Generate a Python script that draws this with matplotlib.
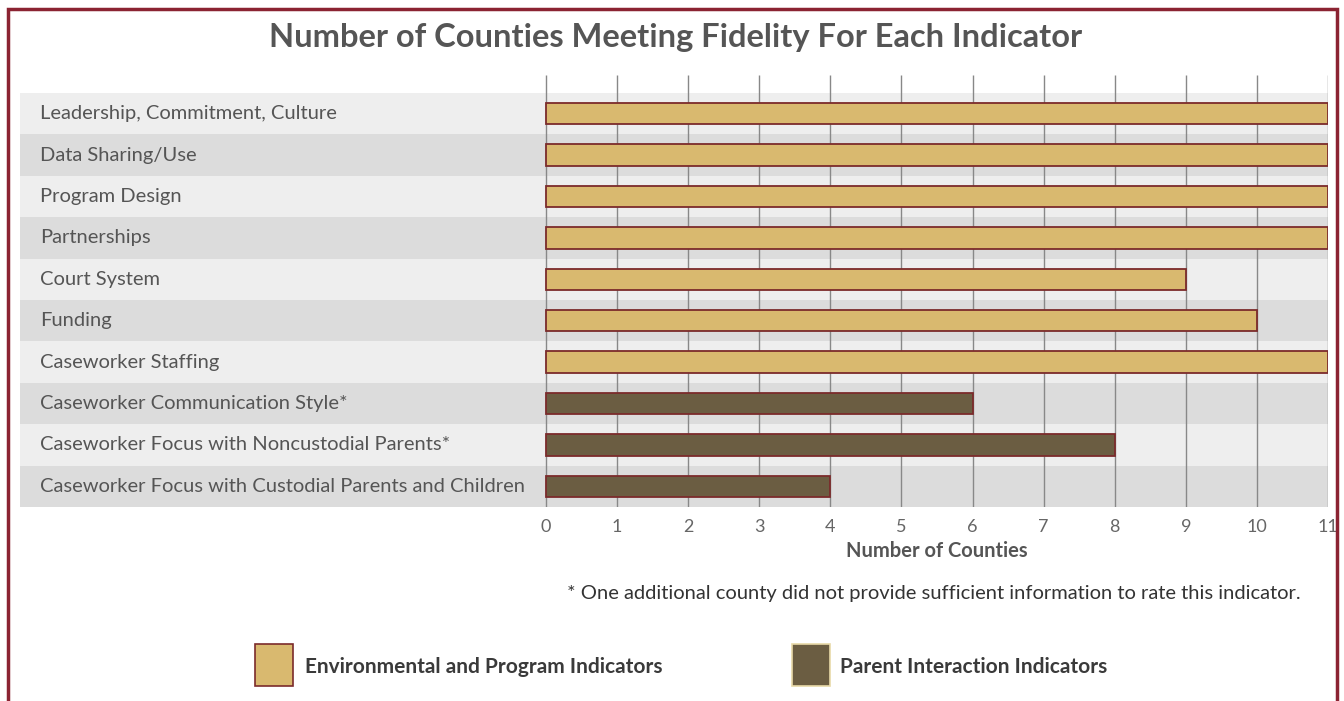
import matplotlib
matplotlib.use("Agg")
import matplotlib.pyplot as plt
from matplotlib.patches import Rectangle
import matplotlib.transforms as mtransforms

plt.rcParams['font.family'] = ['Lato', 'DejaVu Sans']

# data
indicators = ["Leadership, Commitment, Culture",
              "Data Sharing/Use",
              "Program Design",
              "Partnerships",
              "Court System",
              "Funding",
              "Caseworker Staffing",
              "Caseworker Communication Style*",
              "Caseworker Focus with Noncustodial Parents*",
              "Caseworker Focus with Custodial Parents and Children"]
counties = [11, 11, 11, 11, 9, 10, 11, 6, 8, 4]
group = ["env"] * 7 + ["parent"] * 3
xticks = list(range(0, 12))

group_names = {"env": "Environmental and Program Indicators",
               "parent": "Parent Interaction Indicators"}
colors = {"env": "#d9b96f", "parent": "#6b5d42"}
edge = "#7b2b2b"
band_light = "#eeeeee"
band_dark = "#dcdcdc"
txt = "#555555"

W, H = 1344, 701
fig = plt.figure(figsize=(W / 100, H / 100), dpi=100)

# axes spans label area + plot, x=0 at px 546, x=11 at px 1328
left_px, right_px, top_px, bot_px = 20, 1328, 75, 507
x0_px = 546
unit = (right_px - x0_px) / 11.0
xmin = -(x0_px - left_px) / unit
ax = fig.add_axes([left_px / W, 1 - bot_px / H, (right_px - left_px) / W, (bot_px - top_px) / H])
n = len(indicators)
row_px = (bot_px - 93) / n
top_extra = (93 - top_px) / row_px
ax.set_xlim(xmin, 11)
ax.set_ylim(n - 0.5, -0.5 - top_extra)

for i in range(n):
    ax.axhspan(i - 0.5, i + 0.5, color=band_light if i % 2 == 0 else band_dark, lw=0, zorder=0)
    ax.text(xmin + 20 / unit, i, indicators[i], va="center", ha="left",
            fontsize=14.5, color=txt, zorder=3)

ax.vlines(xticks, n - 0.5, -0.5 - top_extra, color="#888888", lw=1, zorder=1)

ax.barh(range(n), counties, height=0.52, color=[colors[g] for g in group],
        edgecolor=edge, linewidth=1.3, zorder=2)

for s in ax.spines.values():
    s.set_visible(False)
ax.set_yticks([])
ax.set_xticks(xticks)
ax.set_xticklabels([str(t) for t in xticks], fontsize=13, color="#666666")
ax.tick_params(axis="x", length=0, pad=9)

trans = mtransforms.blended_transform_factory(ax.transData, fig.transFigure)
ax.text(5.5, 1 - 551 / H, "Number of Counties", transform=trans, ha="center", va="center",
        fontsize=14.5, fontweight="bold", color=txt)
ax.text(5.45, 1 - 593 / H, "* One additional county did not provide sufficient information to rate this indicator.",
        transform=trans, ha="center", va="center", fontsize=14.5, color="#333333")

fig.text(676 / W, 1 - 38 / H, "Number of Counties Meeting Fidelity For Each Indicator",
         ha="center", va="center", fontsize=23.5, fontweight="bold", color=txt)

# legend
for key, px, tx in [("env", 255, 305), ("parent", 792, 840)]:
    fig.add_artist(Rectangle((px / W, 1 - 686 / H), 38 / W, 42 / H, transform=fig.transFigure,
                             facecolor=colors[key], edgecolor=edge if key == "env" else "#e8d9a8", lw=1.2))
    fig.text(tx / W, 1 - 667 / H, group_names[key], ha="left", va="center",
             fontsize=15, fontweight="bold", color="#3a3a3a")

# frame
fig.add_artist(Rectangle((8 / W, -0.02), (1337 - 8) / W, 1.02 - 9 / H, transform=fig.transFigure,
                         fill=False, edgecolor="#8b2332", lw=2.5))

fig.savefig("out.png", dpi=100)
